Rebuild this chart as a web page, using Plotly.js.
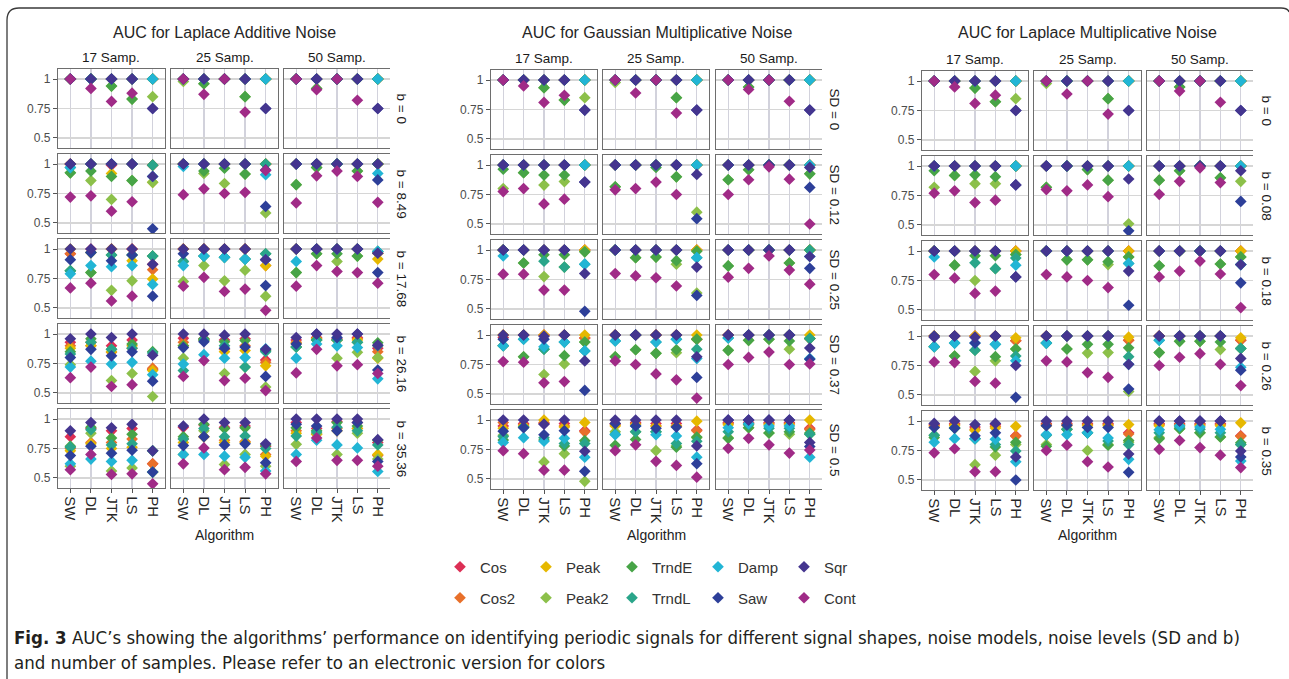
<!DOCTYPE html>
<html><head><meta charset="utf-8">
<script src="https://cdn.plot.ly/plotly-3.0.1.min.js"></script>
<style>html,body{margin:0;padding:0;background:#fff;}#chart{width:1289px;height:679px;}</style>
</head><body><div id="chart"></div>
<script>
// ---------- categories / labels ----------
const algos = ['SW','DL','JTK','LS','PH'];
const samples = ['17 Samp.','25 Samp.','50 Samp.'];
const seriesNames = ['Cos','Cos2','Peak','Peak2','TrndE','TrndL','Damp','Saw','Sqr','Cont'];
const seriesColors = ['#dc2f55','#e8702a','#e6b800','#8cc04a','#47a447','#2aa58a','#22b5d5','#2d3f99','#44358f','#a02b87'];
const panelTitles = ['AUC for Laplace Additive Noise','AUC for Gaussian Multiplicative Noise','AUC for Laplace Multiplicative Noise'];
const LA_levels = ['b = 0','b = 8.49','b = 17.68','b = 26.16','b = 35.36'];
const GM_levels = ['SD = 0','SD = 0.12','SD = 0.25','SD = 0.37','SD = 0.5'];
const LM_levels = ['b = 0','b = 0.08','b = 0.18','b = 0.26','b = 0.35'];

// ---------- data: each row = one noise level; 15 values = [17 Samp: SW DL JTK LS PH, 25 Samp: ..., 50 Samp: ...] ----------
// Laplace additive
const LA_Cos = [
 [1,1,1,1,1, 1,1,1,1,1, 1,1,1,1,1],
 [1,1,0.99,1,0.99, 1,1,1,1,1, 1,1,1,1,1],
 [0.96,1,1,1,0.87, 1,1,1,1,0.91, 1,1,1,1,0.965],
 [0.93,0.93,0.90,0.95,0.70, 0.965,0.96,0.95,0.96,0.78, 0.95,0.97,0.96,0.97,0.88],
 [0.85,0.92,0.90,0.92,0.62, 0.93,0.95,0.93,0.94,0.77, 0.97,0.92,0.98,0.97,0.80]];
const LA_Cos2 = [
 [1,1,1,1,1, 1,1,1,1,1, 1,1,1,1,1],
 [1,1,1,1,0.99, 1,1,1,1,1, 1,1,1,1,1],
 [0.96,0.97,1,1,0.825, 1,1,1,1,0.86, 1,1,1,1,0.965],
 [0.90,0.90,0.845,0.88,0.71, 0.93,0.95,0.87,0.90,0.76, 0.93,0.96,0.95,0.96,0.85],
 [0.75,0.80,0.80,0.83,0.62, 0.83,0.85,0.82,0.81,0.70, 0.90,0.87,0.92,0.92,0.69]];
const LA_Peak = [
 [1,1,1,1,1, 1,1,1,1,1, 1,1,1,1,1],
 [1,1,0.92,1,0.845, 1,1,1,1,1, 1,1,1,1,1],
 [1,0.97,1,0.90,0.745, 1,1,1,1,0.86, 1,1,1,1,0.915],
 [0.88,0.90,0.85,0.90,0.69, 0.90,0.95,0.85,0.86,0.73, 0.92,0.96,0.95,0.95,0.795],
 [0.73,0.79,0.75,0.76,0.55, 0.80,0.85,0.80,0.80,0.685, 0.88,0.87,0.90,0.92,0.70]];
const LA_Peak2 = [
 [1,1,0.94,0.83,0.85, 0.98,0.96,1,0.85,1, 1,0.92,1,1,1],
 [0.925,0.86,0.70,0.86,0.845, 1,0.92,0.835,0.915,0.585, 0.825,0.97,1,0.94,1],
 [0.815,0.80,0.65,0.73,0.94, 0.725,0.86,0.73,0.82,0.60, 0.80,0.96,0.895,0.94,0.965],
 [0.74,0.93,0.605,0.665,0.47, 0.795,0.95,0.665,0.72,0.55, 0.89,0.95,0.795,0.845,0.80],
 [0.60,0.88,0.56,0.585,0.55, 0.70,0.90,0.615,0.70,0.60, 0.785,0.88,0.70,0.88,0.66]];
const LA_TrndE = [
 [1,1,0.94,0.83,1, 1,0.96,1,0.85,1, 1,0.92,1,1,1],
 [0.925,0.94,0.895,0.86,0.99, 1,0.94,0.965,0.915,1, 0.825,0.97,1,0.94,1],
 [0.815,0.80,0.95,0.95,0.94, 0.895,0.94,0.93,0.915,0.96, 0.80,0.96,0.96,0.94,0.98],
 [0.85,0.96,0.87,0.915,0.85, 0.90,0.96,0.935,0.945,0.86, 0.89,0.95,0.95,0.93,0.925],
 [0.77,0.93,0.84,0.87,0.73, 0.85,0.955,0.92,0.925,0.78, 0.925,0.90,0.97,0.94,0.82]];
const LA_TrndL = [
 [1,1,1,1,1, 1,1,1,1,1, 1,1,1,1,1],
 [0.97,1,1,1,0.99, 1,1,1,1,1, 1,1,1,1,1],
 [0.815,0.97,0.95,0.95,0.94, 0.895,0.94,0.93,0.915,0.96, 1,1,1,1,0.98],
 [0.83,0.93,0.87,0.88,0.84, 0.69,0.95,0.90,0.72,0.85, 0.89,0.95,0.95,0.93,0.90],
 [0.76,0.91,0.78,0.79,0.73, 0.83,0.92,0.85,0.855,0.75, 0.855,0.89,0.93,0.90,0.78]];
const LA_Damp = [
 [1,1,1,1,1, 1,1,1,1,1, 1,1,1,1,1],
 [0.97,1,1,1,0.895, 0.98,1,1,1,0.91, 1,1,1,1,0.92],
 [0.79,0.86,0.85,0.86,0.70, 0.86,0.94,0.93,0.915,0.91, 0.895,1,1,1,0.98],
 [0.72,0.77,0.745,0.76,0.655, 0.745,0.825,0.795,0.80,0.875, 0.795,0.915,0.90,0.885,0.62],
 [0.62,0.66,0.64,0.65,0.55, 0.70,0.70,0.685,0.675,0.56, 0.70,0.82,0.78,0.755,0.555]];
const LA_Saw = [
 [1,1,1,1,0.75, 1,1,1,1,0.75, 1,1,1,1,0.75],
 [1,1,1,1,0.45, 1,1,1,1,0.64, 1,1,1,1,0.865],
 [0.91,0.97,0.90,0.95,0.60, 0.96,1,1,1,0.69, 1,1,1,1,0.80],
 [0.80,0.87,0.815,0.85,0.60, 0.885,0.935,0.88,0.89,0.64, 0.915,1,0.97,1,0.695],
 [0.69,0.77,0.71,0.735,0.55, 0.775,0.85,0.78,0.79,0.63, 0.955,0.94,0.90,0.97,0.64]];
const LA_Sqr = [
 [1,1,1,1,0.75, 1,1,1,1,0.75, 1,1,1,1,0.75],
 [1,1,1,1,0.895, 1,1,1,1,0.95, 1,1,1,1,1],
 [1,1,1,1,0.87, 1,1,1,1,0.91, 1,1,1,1,0.965],
 [0.96,1,0.97,1,0.82, 1,1,0.99,1,0.87, 0.97,1,1,1,0.905],
 [0.90,0.97,0.925,0.955,0.73, 0.94,1,0.97,0.97,0.79, 1,1,1,1,0.825]];
const LA_Cont = [
 [1,0.92,0.81,0.88,null, 1,0.87,1,0.72,null, 1,0.91,1,0.82,null],
 [0.72,0.73,0.60,0.68,null, 0.74,0.79,0.75,0.76,0.945, 0.67,0.90,0.94,0.895,0.675],
 [0.67,0.71,0.56,0.60,null, 0.685,0.76,0.64,0.66,0.48, 0.685,0.86,0.81,0.80,0.71],
 [0.63,0.72,0.555,0.57,null, 0.64,0.775,0.605,0.625,0.52, 0.67,0.87,0.73,0.74,0.665],
 [0.57,0.70,0.53,0.535,0.45, 0.62,0.755,0.57,0.59,0.535, 0.64,0.84,0.65,0.65,0.60]];

// Gaussian multiplicative
const GM_Cos = [
 [1,1,1,1,1, 1,1,1,1,1, 1,1,1,1,1],
 [1,1,1,1,1, 1,1,1,1,1, 1,1,1,1,1],
 [1,1,1,1,1, 1,1,1,1,1, 1,1,1,1,1],
 [0.98,1,1,1,0.975, 1,1,1,1,0.965, 1,1,1,1,0.97],
 [0.95,0.97,0.97,0.97,0.91, 0.97,0.98,0.97,0.97,0.915, 0.98,0.98,0.98,0.98,0.93]];
const GM_Cos2 = [
 [1,1,1,1,1, 1,1,1,1,1, 1,1,1,1,1],
 [1,1,1,1,1, 1,1,1,1,1, 1,1,1,1,1],
 [1,1,1,1,1, 1,1,1,1,1, 1,1,1,1,1],
 [1,1,1,1,0.975, 1,1,1,1,0.965, 1,1,1,1,0.97],
 [0.98,0.96,0.98,0.95,0.90, 0.96,0.97,0.95,0.95,0.91, 0.97,0.97,0.97,0.97,0.92]];
const GM_Peak = [
 [1,1,1,1,1, 1,1,1,1,1, 1,1,1,1,1],
 [1,1,1,1,1, 1,1,1,1,1, 1,1,1,1,1],
 [1,1,1,1,1, 1,1,1,1,1, 1,1,1,1,1],
 [1,1,1,1,1, 1,1,1,1,1, 1,1,1,1,1],
 [0.93,0.95,1,0.94,0.98, 0.95,0.96,0.95,0.95,0.99, 0.96,0.96,0.96,0.96,1]];
const GM_Peak2 = [
 [1,1,0.935,0.83,0.85, 0.98,1,1,0.85,1, 1,0.94,1,1,1],
 [0.80,0.935,0.83,0.86,1, 0.815,1,1,0.90,0.60, 0.875,0.96,1,1,0.925],
 [1,0.89,0.775,0.855,0.985, 1,0.935,0.94,0.88,0.635, 0.865,1,1,0.89,1],
 [0.91,0.815,0.665,0.755,0.94, 0.815,0.875,0.845,0.85,0.965, 0.87,0.955,0.965,0.88,0.97],
 [0.87,0.94,0.645,0.715,0.48, 0.90,0.90,0.74,0.78,0.85, 0.85,0.935,0.89,0.88,0.88]];
const GM_TrndE = [
 [1,1,0.935,0.83,1, 1,1,1,0.85,1, 1,0.94,1,1,1],
 [0.965,0.935,0.915,0.915,1, 0.815,1,0.98,0.90,1, 0.875,0.96,1,1,0.925],
 [1,0.89,0.96,0.96,0.985, 1,0.935,0.94,0.91,0.99, 0.865,1,1,0.89,1],
 [0.91,0.815,0.88,0.825,0.94, 0.815,0.875,0.845,0.875,0.965, 0.87,0.955,0.965,0.95,0.97],
 [0.83,0.94,0.83,0.78,0.825, 0.785,0.835,0.90,0.77,0.855, 0.845,0.935,0.89,0.90,0.89]];
const GM_TrndL = [
 [1,1,1,1,1, 1,1,1,1,1, 1,1,1,1,1],
 [1,1,1,1,1, 1,1,1,1,1, 1,1,1,1,1],
 [1,1,0.905,0.855,0.88, 1,1,1,1,0.935, 1,1,1,1,1],
 [0.91,0.965,0.88,0.94,0.865, 0.95,1,0.94,0.965,0.88, 0.975,1,1,1,0.97],
 [0.86,0.94,0.85,0.80,0.80, 0.88,0.90,0.90,0.80,0.82, 0.90,0.96,0.93,0.93,0.88]];
const GM_Damp = [
 [1,1,1,1,1, 1,1,1,1,1, 1,1,1,1,1],
 [1,1,1,1,1, 1,1,1,1,1, 1,1,1,1,1],
 [0.95,1,1,1,0.88, 1,1,1,1,0.935, 1,1,1,1,0.945],
 [0.91,0.965,0.90,0.94,0.865, 0.95,1,0.94,0.965,0.80, 0.975,1,1,1,0.80],
 [0.81,0.85,0.82,0.845,0.685, 0.875,0.95,0.875,0.865,0.685, 0.935,0.97,0.95,0.95,0.685]];
const GM_Saw = [
 [1,1,1,1,0.745, 1,1,1,1,0.745, 1,1,1,1,0.745],
 [1,1,1,1,0.855, 1,1,1,1,0.545, 1,1,1,1,0.81],
 [1,1,1,1,0.48, 1,1,1,1,0.615, 1,1,1,1,0.845],
 [0.965,1,0.965,1,0.53, 1,1,1,1,0.64, 1,1,1,1,0.795],
 [0.905,0.935,0.875,0.91,0.565, 0.97,0.95,0.93,0.94,0.63, 1,1,1,1,0.775]];
const GM_Sqr = [
 [1,1,1,1,0.745, 1,1,1,1,0.745, 1,1,1,1,0.745],
 [1,1,1,1,0.855, 1,1,1,1,0.92, 1,1,1,1,0.98],
 [1,1,1,1,0.80, 1,1,1,1,0.855, 1,1,1,1,0.945],
 [1,1,0.99,1,0.78, 1,1,1,1,0.815, 1,1,1,1,0.89],
 [1,1,0.965,1,0.735, 1,1,1,1,0.78, 1,1,1,1,0.81]];
const GM_Cont = [
 [1,0.95,0.81,0.87,null, 1,0.89,1,0.72,null, 1,0.92,1,0.82,null],
 [0.775,0.80,0.67,0.71,null, 0.79,0.80,0.855,0.75,null, 0.75,0.875,0.985,0.88,0.50],
 [0.795,0.795,0.66,0.66,null, 0.80,0.78,0.765,0.695,null, 0.77,0.845,0.95,0.83,0.71],
 [0.775,0.77,0.595,0.605,null, 0.78,0.75,0.67,0.62,0.465, 0.75,0.81,0.855,0.75,0.755],
 [0.74,0.715,0.575,0.575,null, 0.74,0.79,0.65,0.615,0.515, 0.76,0.845,0.79,0.72,0.745]];

// Laplace multiplicative
const LM_Cos = [
 [1,1,1,1,1, 1,1,1,1,1, 1,1,1,1,1],
 [1,1,1,1,1, 1,1,1,1,1, 1,1,1,1,1],
 [1,1,1,1,1, 1,1,1,1,1, 1,1,1,1,1],
 [1,1,1,1,0.96, 1,1,1,1,0.965, 1,1,1,1,0.965],
 [0.97,0.98,0.95,0.97,0.875, 0.98,0.98,0.98,0.98,0.90, 0.98,0.98,0.98,0.98,0.875]];
const LM_Cos2 = [
 [1,1,1,1,1, 1,1,1,1,1, 1,1,1,1,1],
 [1,1,1,1,1, 1,1,1,1,1, 1,1,1,1,1],
 [1,1,1,1,1, 1,1,1,1,1, 1,1,1,1,1],
 [1,1,1,1,0.96, 1,1,1,1,0.965, 1,1,1,1,0.965],
 [0.96,0.97,0.93,0.955,0.87, 0.97,0.97,0.97,0.97,0.89, 0.97,0.97,0.97,0.97,0.87]];
const LM_Peak = [
 [1,1,1,1,1, 1,1,1,1,1, 1,1,1,1,1],
 [1,1,1,1,1, 1,1,1,1,1, 1,1,1,1,1],
 [1,1,1,1,1, 1,1,1,1,1, 1,1,1,1,1],
 [1,1,1,1,0.985, 1,1,1,1,0.99, 1,1,1,1,0.985],
 [0.95,0.96,0.92,0.94,0.955, 0.96,0.96,0.96,0.96,0.97, 0.96,0.96,0.96,0.96,0.985]];
const LM_Peak2 = [
 [1,1,0.94,0.825,0.85, 0.98,1,1,0.85,1, 1,0.95,1,1,1],
 [0.82,0.92,0.85,0.85,1, 0.82,1,0.97,0.88,0.51, 0.88,0.96,1,0.90,0.87],
 [1,0.88,0.75,0.85,0.97, 1,0.925,0.925,0.885,0.95, 0.875,1,1,0.89,0.95],
 [0.91,0.83,0.70,0.79,0.89, 0.94,0.89,0.855,0.86,0.53, 0.86,0.955,0.955,0.885,0.895],
 [0.88,0.94,0.63,0.71,0.80, 0.80,0.93,0.75,0.80,0.82, 0.86,0.935,0.90,0.865,0.80]];
const LM_TrndE = [
 [1,1,0.94,0.825,1, 1,1,1,0.85,1, 1,0.95,1,1,1],
 [0.96,0.92,0.925,0.91,1, 0.82,1,0.97,0.88,1, 0.88,0.96,1,0.90,1],
 [1,0.88,0.96,0.96,0.97, 1,0.925,0.925,0.91,0.95, 0.875,1,1,0.89,0.95],
 [0.91,0.83,0.88,0.825,0.89, 0.94,0.89,0.93,0.93,0.90, 0.86,0.955,0.955,0.95,0.895],
 [0.86,0.94,0.85,0.78,0.82, 0.785,0.93,0.90,0.795,0.835, 0.85,0.935,0.90,0.865,0.815]];
const LM_TrndL = [
 [1,1,1,1,1, 1,1,1,1,1, 1,1,1,1,1],
 [1,1,1,1,1, 1,1,1,1,1, 1,1,1,1,1],
 [1,1,0.90,0.85,0.94, 1,1,1,1,0.895, 1,1,1,1,0.885],
 [0.91,0.94,0.88,0.93,0.83, 0.94,1,1,1,0.825, 0.965,1,1,1,0.895],
 [0.88,0.94,0.85,0.80,0.745, 0.88,0.93,0.90,0.83,0.80, 0.90,0.95,0.93,0.90,0.80]];
const LM_Damp = [
 [1,1,1,1,1, 1,1,1,1,1, 1,1,1,1,1],
 [1,1,1,1,1, 1,1,1,1,1, 1,1,1,1,1],
 [0.95,1,1,1,0.88, 1,1,1,1,0.895, 1,1,1,1,0.885],
 [0.91,0.94,0.94,0.93,0.79, 0.94,1,1,1,0.76, 0.965,1,1,1,0.735],
 [0.82,0.85,0.85,0.845,0.655, 0.885,0.885,0.90,0.855,0.675, 0.925,0.96,0.95,0.93,0.66]];
const LM_Saw = [
 [1,1,1,1,0.75, 1,1,1,1,0.75, 1,1,1,1,0.75],
 [1,1,1,1,0.84, 1,1,1,1,0.45, 1,1,1,1,0.70],
 [1,1,1,1,0.78, 1,1,1,1,0.54, 1,1,1,1,0.73],
 [1,1,0.94,1,0.48, 1,1,1,1,0.55, 1,1,1,1,0.71],
 [0.945,0.94,0.875,0.90,0.50, 0.96,0.965,0.945,0.945,0.565, 1,1,1,1,0.695]];
const LM_Sqr = [
 [1,1,1,1,0.75, 1,1,1,1,0.75, 1,1,1,1,0.75],
 [1,1,1,1,0.84, 1,1,1,1,0.89, 1,1,1,1,0.96],
 [1,1,1,1,0.78, 1,1,1,1,0.83, 1,1,1,1,0.885],
 [0.99,1,0.99,1,0.75, 1,1,1,1,0.76, 1,1,1,1,0.81],
 [0.98,1,0.97,0.98,0.695, 1,1,1,1,0.72, 1,1,1,1,0.745]];
const LM_Cont = [
 [1,0.95,0.81,0.88,null, 1,0.89,1,0.72,null, 1,0.915,1,0.82,null],
 [0.77,0.79,0.69,0.71,null, 0.80,0.79,0.84,0.74,null, 0.76,0.87,0.985,0.86,null],
 [0.80,0.77,0.64,0.66,null, 0.80,0.78,0.75,0.69,null, 0.78,0.83,0.915,0.805,0.52],
 [0.78,0.775,0.615,0.60,null, 0.79,0.78,0.69,0.65,null, 0.75,0.82,0.85,0.76,0.58],
 [0.73,0.765,0.57,0.57,null, 0.75,0.795,0.655,0.61,null, 0.76,0.835,0.775,0.71,0.605]];

// ---------- build ----------
const W = 1289, H = 679;
const FONT = '"Liberation Sans", Arial, sans-serif';
const panels = [
  {title: panelTitles[0], levels: LA_levels, cols: [[58,165],[171,278],[284,390]], top: 69, strip: 401,
   series: [LA_Cos,LA_Cos2,LA_Peak,LA_Peak2,LA_TrndE,LA_TrndL,LA_Damp,LA_Saw,LA_Sqr,LA_Cont]},
  {title: panelTitles[1], levels: GM_levels, cols: [[491,597],[603,709],[716,822]], top: 70, strip: 834},
  {title: panelTitles[2], levels: LM_levels, cols: [[922,1028],[1034,1141],[1147,1253]], top: 71, strip: 1266}
];
panels[1].series = [GM_Cos,GM_Cos2,GM_Peak,GM_Peak2,GM_TrndE,GM_TrndL,GM_Damp,GM_Saw,GM_Sqr,GM_Cont];
panels[2].series = [LM_Cos,LM_Cos2,LM_Peak,LM_Peak2,LM_TrndE,LM_TrndL,LM_Damp,LM_Saw,LM_Sqr,LM_Cont];
const rowPitch = 85, rowH = 79;
const legendRow1 = ['Cos','Peak','TrndE','Damp','Sqr'];

const traces = [];
const annotations = [];
const legendBase = {orientation:'h', x: 440/W, xanchor:'left', yanchor:'middle',
  entrywidth: 41, entrywidthmode:'pixels', font:{family:FONT, size:15, color:'#333'},
  bgcolor:'rgba(0,0,0,0)', itemclick:false, itemdoubleclick:false};
const layout = {
  width: W, height: H, margin: {l:0, r:0, t:0, b:0},
  paper_bgcolor: '#fff', plot_bgcolor: '#fff',
  font: {family: FONT, color: '#333'},
  hovermode: false,
  legend: Object.assign({}, legendBase, {y: 1-567/H}),
  legend2: Object.assign({}, legendBase, {y: 1-598/H})
};

let k = 0;
panels.forEach((P, p) => {
  const pl = P.cols[0][0], pr = P.cols[2][1];
  annotations.push({text: P.title, x: (pl+pr)/2/W, y: 1-32/H, xref:'paper', yref:'paper',
    showarrow:false, xanchor:'center', yanchor:'middle', font:{size:16, color:'#262626'}});
  annotations.push({text: 'Algorithm', x: (pl+pr)/2/W, y: 1-535/H, xref:'paper', yref:'paper',
    showarrow:false, xanchor:'center', yanchor:'middle', font:{size:14, color:'#222'}});
  samples.forEach((s, c) => {
    annotations.push({text: s, x: (P.cols[c][0]+P.cols[c][1])/2/W, y: 1-(P.top-12)/H, xref:'paper', yref:'paper',
      showarrow:false, xanchor:'center', yanchor:'middle', font:{size:13.5, color:'#1a1a1a'}});
  });
  for (let r = 0; r < 5; r++) {
    const top = P.top + r*rowPitch, bot = top + rowH;
    annotations.push({text: P.levels[r], x: P.strip/W, y: 1-(top+bot)/2/H, xref:'paper', yref:'paper',
      showarrow:false, textangle:90, xanchor:'center', yanchor:'middle', font:{size:13.5, color:'#1a1a1a'}});
    for (let c = 0; c < 3; c++) {
      k++;
      const sfx = k === 1 ? '' : String(k);
      layout['xaxis'+sfx] = {
        domain: [P.cols[c][0]/W, P.cols[c][1]/W], anchor: 'y'+sfx,
        type:'category', categoryorder:'array', categoryarray: algos, range:[-0.6, 4.6],
        showgrid:true, gridcolor:'#d2d2dc', gridwidth:1.2, zeroline:false,
        showline:true, linecolor:'#6e6e6e', linewidth:1.2, mirror:true,
        ticks: r===4 ? 'outside' : '', ticklen:4, tickcolor:'#555', tickwidth:1,
        showticklabels: r===4, tickangle:90, tickfont:{size:15, color:'#262626'}, fixedrange:true
      };
      layout['yaxis'+sfx] = {
        domain: [1-bot/H, 1-top/H], anchor: 'x'+sfx, range:[0.415, 1.085],
        tickvals:[0.5,0.75,1], ticktext:['0.5','0.75','1'],
        showgrid:true, gridcolor:'#d6d6d6', gridwidth:1.2, zeroline:false,
        showline:true, linecolor:'#6e6e6e', linewidth:1.2, mirror: c < 2,
        ticks: c===0 ? 'outside' : '', ticklen:4, tickcolor:'#555', tickwidth:1,
        showticklabels: c===0, tickfont:{size:12, color:'#4d4d4d'}, fixedrange:true
      };
      seriesNames.forEach((s, i) => {
        traces.push({
          type:'scatter', mode:'markers', x: algos, y: P.series[i][r].slice(c*5, c*5+5),
          xaxis:'x'+sfx, yaxis:'y'+sfx, name: s, legendgroup: s,
          legend: legendRow1.includes(s) ? 'legend' : 'legend2',
          showlegend: k === 1, hoverinfo:'skip',
          marker:{symbol:'diamond', size:9, color: seriesColors[i], line:{width:0}}
        });
      });
    }
  }
});

// caption
const CAPFONT = '"DejaVu Sans Condensed", "Liberation Sans Narrow", sans-serif';
annotations.push({text: '<b>Fig. 3</b> AUC’s showing the algorithms’ performance on identifying periodic signals for different signal shapes, noise models, noise levels (SD and b)',
  x: 12/W, y: 1-637/H, xref:'paper', yref:'paper', showarrow:false, xanchor:'left', yanchor:'middle',
  font:{family: CAPFONT, size:18.5, color:'#231f20'}});
annotations.push({text: 'and number of samples. Please refer to an electronic version for colors',
  x: 12/W, y: 1-662/H, xref:'paper', yref:'paper', showarrow:false, xanchor:'left', yanchor:'middle',
  font:{family: CAPFONT, size:18.5, color:'#231f20'}});
layout.annotations = annotations;

// frame
const px = v => v/W, py = v => 1 - v/H;
layout.shapes = [{
  type:'path', xref:'paper', yref:'paper',
  path: `M ${px(7)} ${py(679)} L ${px(7)} ${py(20)} Q ${px(7)} ${py(8)} ${px(19)} ${py(8)} L ${px(1281)} ${py(8)} Q ${px(1288)} ${py(8)} ${px(1289)} ${py(12)}`,
  line:{color:'#3a3a3a', width:1.3}
}];

Plotly.newPlot('chart', traces, layout, {displayModeBar:false, staticPlot:true});
</script></body></html>
